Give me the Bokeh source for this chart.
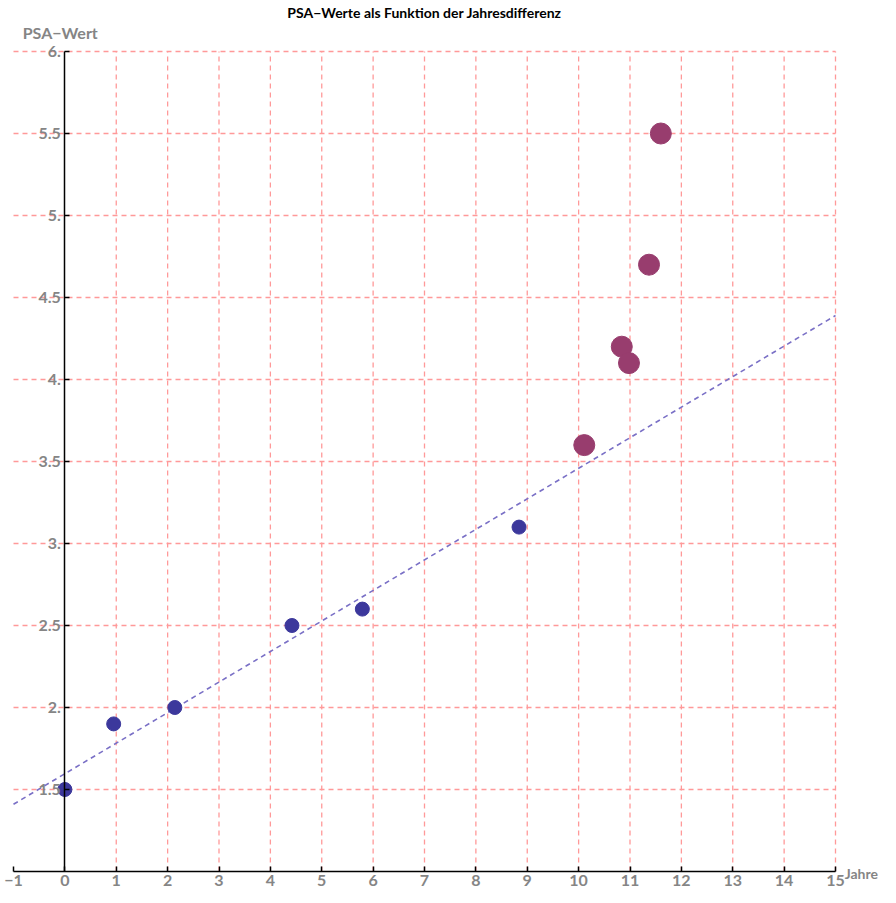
from bokeh.plotting import figure
from bokeh.models import FixedTicker, CustomJSTickFormatter, Label, Range1d
from bokeh.embed import file_html
from bokeh.resources import INLINE

# data
blue_x = [0.0, 0.95, 2.14, 4.42, 5.79, 8.84]
blue_y = [1.5, 1.9, 2.0, 2.5, 2.6, 3.1]
purple_x = [10.11, 10.84, 10.98, 11.37, 11.60]
purple_y = [3.6, 4.2, 4.1, 4.7, 5.5]
fit_x = [-1.0, 15.0]
fit_y = [1.41, 4.39]
x_ticks = list(range(-1, 16))
x_grid = list(range(1, 16))
y_ticks = [1.5, 2.0, 2.5, 3.0, 3.5, 4.0, 4.5, 5.0, 5.5, 6.0]
x_lim = (-1, 15)
y_lim = (1, 6)

FONT = "Lato"
GRAY = "#858585"

W, H = 880, 887
# plot area in pixels: left 13, right 835, top 51, bottom 871
px_per_x = (835 - 13) / (x_lim[1] - x_lim[0])
px_per_y = (871 - 51) / (y_lim[1] - y_lim[0])
xr = Range1d(x_lim[0] - 13 / px_per_x, x_lim[1] + (W - 835) / px_per_x)
yr = Range1d(y_lim[0] - (H - 871) / px_per_y, y_lim[1] + 51 / px_per_y)

p = figure(width=W, height=H, output_backend="svg", toolbar_location=None,
           x_range=xr, y_range=yr, min_border=0)
p.outline_line_color = None
p.background_fill_color = "white"
p.border_fill_color = "white"
p.xgrid.visible = False
p.ygrid.visible = False

# grid lines, limited to the plot box
GRID = dict(line_color="#ff9999", line_dash="5 4", line_width=1.3)
p.segment(x0=x_grid, y0=[y_lim[0]] * len(x_grid), x1=x_grid, y1=[y_lim[1]] * len(x_grid), **GRID)
p.segment(x0=[x_lim[0]] * len(y_ticks), y0=y_ticks, x1=[x_lim[1]] * len(y_ticks), y1=y_ticks, **GRID)

# axes
xa = p.xaxis[0]
xa.fixed_location = y_lim[0]
xa.bounds = x_lim
xa.ticker = FixedTicker(ticks=x_ticks)
xa.formatter = CustomJSTickFormatter(code="return tick < 0 ? '\\u2212' + Math.abs(tick) : String(tick);")
ya = p.yaxis[0]
ya.fixed_location = 0
ya.bounds = y_lim
ya.ticker = FixedTicker(ticks=y_ticks)
ya.formatter = CustomJSTickFormatter(code="return (Math.abs(tick % 1) < 1e-9) ? tick.toFixed(0) + '.' : tick.toFixed(1);")
for a in (xa, ya):
    a.axis_line_color = "black"
    a.axis_line_width = 1.5
    a.major_tick_in = 5
    a.major_tick_out = 0
    a.major_tick_line_color = "black"
    a.major_tick_line_width = 1.5
    a.minor_tick_line_color = None
    a.major_label_text_color = GRAY
    a.major_label_text_font = FONT
    a.major_label_text_font_style = "bold"
    a.major_label_text_font_size = "16px"
xa.major_label_standoff = 3
ya.major_label_standoff = 4

# fit line
p.line(fit_x, fit_y, line_color="#7a70c6", line_width=1.6, line_dash="5 4")

# points
p.scatter(blue_x, blue_y, size=14, fill_color="#3c389c", line_color="#3c389c")
p.scatter(purple_x, purple_y, size=21, fill_color="#983d6e", line_color="#983d6e")

# texts
p.add_layout(Label(x=7, y=6.24, text="PSA\u2212Werte als Funktion der Jahresdifferenz",
                   text_font=FONT, text_font_style="bold", text_font_size="14px",
                   text_color="black", text_align="center", text_baseline="middle"))
p.add_layout(Label(x=-0.09, y=6.118, text="PSA\u2212Wert",
                   text_font=FONT, text_font_style="bold", text_font_size="16px",
                   text_color=GRAY, text_align="center", text_baseline="middle"))
p.add_layout(Label(x=15.18, y=0.985, text="Jahre",
                   text_font=FONT, text_font_style="bold", text_font_size="14px",
                   text_color=GRAY, text_align="left", text_baseline="middle"))

open("out.html", "w").write(file_html(p, INLINE))
